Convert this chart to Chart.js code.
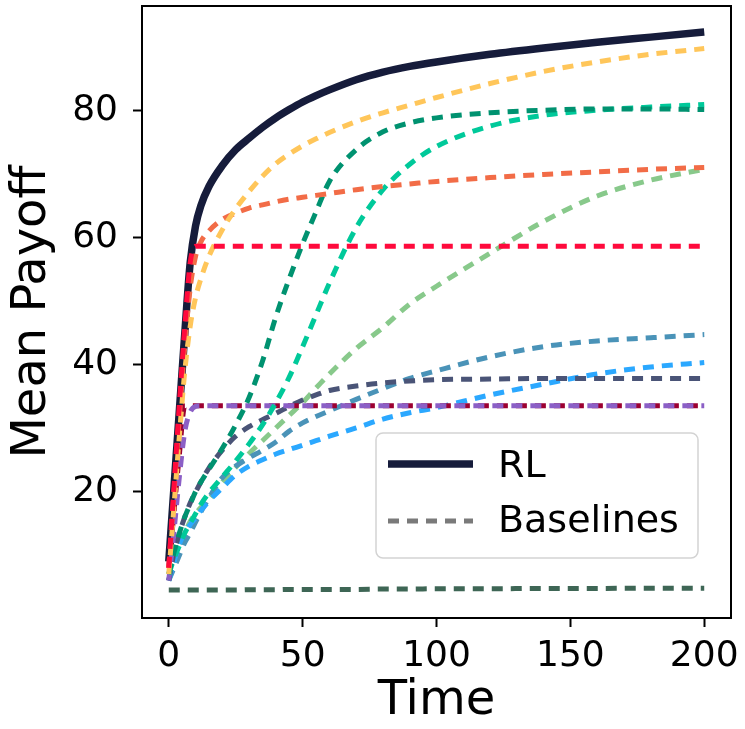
<!DOCTYPE html>
<html>
<head>
  <meta charset="UTF-8">
  <title>Mean Payoff over Time</title>
  <script src="https://cdn.jsdelivr.net/npm/chart.js"></script>
  <style>
    html, body { margin: 0; padding: 0; background: #fff; }
    #wrap { width: 745px; height: 729px; }
  </style>
</head>
<body>
<div id="wrap"><canvas id="payoffChart" width="745" height="729"></canvas></div>
<script>
  // time steps shared by every curve
  const times = [0, 2, 4, 6, 8, 10, 12, 15, 20, 25, 30, 35, 40, 45, 50, 55, 60, 70, 80, 90, 100, 120, 140, 160, 180, 200];

  const rlPayoff = [9, 21, 33, 45, 56, 61.8, 65, 68, 71.3, 73.8, 75.6, 77.3, 78.8, 80.1, 81.3, 82.3, 83.2, 84.8, 86, 86.9, 87.6, 88.8, 89.8, 90.7, 91.5, 92.3];

  const amberPayoff = [7, 18, 29, 39, 46, 50.5, 53.5, 57, 61.2, 64.5, 67.2, 69.6, 71.6, 73.1, 74.4, 75.5, 76.5, 78.2, 79.6, 80.8, 82, 84.2, 86.1, 87.6, 88.8, 89.7];
  const pineGreenPayoff = [7, 10.5, 13.5, 16, 18, 20, 21.5, 23.5, 26.8, 30.5, 34.8, 40.5, 47.5, 53.5, 59, 64, 68.8, 73.8, 76.6, 78, 78.8, 79.6, 80, 80.2, 80.2, 80.1];
  const mintPayoff = [7, 9.5, 11.5, 13.5, 15, 16.5, 18, 19.8, 22.3, 24.8, 27.5, 30.5, 34, 38, 42.8, 47.8, 52.8, 61.5, 67.5, 71.5, 74.3, 77.5, 79.2, 80, 80.5, 80.9];
  const coralPayoff = [8, 20, 32, 43, 52, 57, 59.3, 61, 62.8, 63.8, 64.6, 65.1, 65.6, 66, 66.3, 66.6, 66.9, 67.5, 68, 68.4, 68.8, 69.4, 69.9, 70.3, 70.7, 71];
  const sagePayoff = [6, 9, 11.5, 13.5, 15.3, 16.5, 17.5, 18.8, 21.5, 23.8, 26, 28, 30, 32, 34, 36.3, 38.5, 42.5, 45.8, 49.5, 52.3, 57.5, 62.5, 66.5, 69, 70.7];
  const crimsonPayoff = [8, 21, 34, 46, 56, 58.6, 58.6, 58.6, 58.6, 58.6, 58.6, 58.6, 58.6, 58.6, 58.6, 58.6, 58.6, 58.6, 58.6, 58.6, 58.6, 58.6, 58.6, 58.6, 58.6, 58.6];
  const steelPayoff = [6, 8, 10, 12, 13.5, 15.2, 16.8, 19, 22.2, 24, 25.3, 26.5, 27.8, 29.5, 30.8, 31.8, 32.7, 34.5, 36.2, 37.8, 39, 41.2, 42.8, 43.7, 44.2, 44.7];
  const skyPayoff = [6, 9, 11.8, 13.5, 14.8, 15.8, 17, 18.5, 20.6, 22.6, 24, 25, 25.9, 26.6, 27.3, 28, 28.7, 30, 31.4, 32.4, 33.2, 35.2, 36.9, 38.5, 39.6, 40.3];
  const slatePayoff = [6, 10.4, 13.5, 16, 18.2, 19.9, 21.5, 23.7, 26.5, 28.7, 30.2, 31.3, 32.3, 33.4, 34.4, 35.2, 35.9, 36.6, 37.1, 37.4, 37.6, 37.7, 37.8, 37.8, 37.8, 37.8];
  const maroonPayoff = [8, 17, 26, 33.5, 33.5, 33.5, 33.5, 33.5, 33.5, 33.5, 33.5, 33.5, 33.5, 33.5, 33.5, 33.5, 33.5, 33.5, 33.5, 33.5, 33.5, 33.5, 33.5, 33.5, 33.5, 33.5];
  const violetPayoff = [6, 14, 22.5, 29.5, 32.5, 33.4, 33.5, 33.5, 33.5, 33.5, 33.5, 33.5, 33.5, 33.5, 33.5, 33.5, 33.5, 33.5, 33.5, 33.5, 33.5, 33.5, 33.5, 33.5, 33.5, 33.5];
  const mossPayoff = [4.5, 4.5, 4.5, 4.5, 4.5, 4.5, 4.5, 4.5, 4.5, 4.5, 4.55, 4.55, 4.55, 4.6, 4.6, 4.6, 4.6, 4.6, 4.65, 4.65, 4.7, 4.7, 4.75, 4.75, 4.8, 4.8];

  const xTicks = [0, 50, 100, 150, 200];
  const yTicks = [20, 40, 60, 80];
  const legendLabels = ['RL', 'Baselines'];

  const FONT = "'DejaVu Sans', sans-serif";

  // baseline curves, bottom-most first
  const baselines = [
    { values: mossPayoff, color: '#3e6655' },
    { values: sagePayoff, color: '#88c98b' },
    { values: steelPayoff, color: '#4a93b8' },
    { values: skyPayoff, color: '#2ba8ff' },
    { values: slatePayoff, color: '#4a5477' },
    { values: maroonPayoff, color: '#9c0030' },
    { values: violetPayoff, color: '#8b5fc6' },
    { values: mintPayoff, color: '#00c99a' },
    { values: pineGreenPayoff, color: '#009270' },
    { values: coralPayoff, color: '#f26c47' },
    { values: amberPayoff, color: '#ffc65a' },
    { values: crimsonPayoff, color: '#ff0a3c' }
  ];

  const pts = vals => times.map((t, i) => ({ x: t, y: vals[i] }));

  const datasets = [{
    label: 'RL',
    data: pts(rlPayoff),
    borderColor: '#161c3b',
    borderWidth: 7.5,
    order: 100
  }];
  baselines.forEach((b, i) => {
    datasets.push({
      label: 'Baselines',
      data: pts(b.values),
      borderColor: b.color,
      borderWidth: 5,
      borderDash: [11, 8],
      order: 50 - i
    });
  });

  // top/right spines of the axes box
  const framePlugin = {
    id: 'frame',
    afterDraw(chart) {
      const { ctx, chartArea: a } = chart;
      ctx.save();
      ctx.strokeStyle = '#000';
      ctx.lineWidth = 2;
      ctx.beginPath();
      ctx.moveTo(a.left, a.top);
      ctx.lineTo(a.right, a.top);
      ctx.lineTo(a.right, a.bottom);
      ctx.stroke();
      ctx.restore();
    }
  };

  // legend box in the lower right of the plot
  const legendPlugin = {
    id: 'boxLegend',
    afterDraw(chart) {
      const ctx = chart.ctx;
      const bx = 376, by = 433, bw = 322, bh = 125, r = 7;
      ctx.save();
      ctx.beginPath();
      ctx.roundRect(bx, by, bw, bh, r);
      ctx.fillStyle = 'rgba(255,255,255,0.8)';
      ctx.fill();
      ctx.strokeStyle = '#d3d3d3';
      ctx.lineWidth = 1.5;
      ctx.stroke();

      ctx.lineCap = 'butt';
      ctx.strokeStyle = '#161c3b';
      ctx.lineWidth = 7.5;
      ctx.beginPath();
      ctx.moveTo(388, 464);
      ctx.lineTo(473, 464);
      ctx.stroke();

      ctx.strokeStyle = '#7a7a7a';
      ctx.lineWidth = 5;
      ctx.setLineDash([11, 8]);
      ctx.beginPath();
      ctx.moveTo(388, 521);
      ctx.lineTo(473, 521);
      ctx.stroke();
      ctx.setLineDash([]);

      ctx.fillStyle = '#000';
      ctx.font = '38px ' + FONT;
      ctx.textAlign = 'left';
      ctx.textBaseline = 'alphabetic';
      ctx.fillText(legendLabels[0], 498, 477);
      ctx.fillText(legendLabels[1], 498, 532);
      ctx.restore();
    }
  };

  new Chart(document.getElementById('payoffChart'), {
    type: 'line',
    data: { datasets },
    options: {
      responsive: false,
      animation: false,
      layout: { padding: { top: 6, right: 14, left: 0, bottom: 0 } },
      elements: {
        point: { radius: 0 },
        line: { tension: 0, cubicInterpolationMode: 'monotone', fill: false, borderCapStyle: 'butt' }
      },
      plugins: {
        legend: { display: false },
        tooltip: { enabled: false }
      },
      scales: {
        x: {
          type: 'linear',
          min: -10,
          max: 210,
          afterFit(scale) {
            scale.height = 111;
            scale.paddingLeft = 0;
            scale.paddingRight = 0;
          },
          afterBuildTicks(scale) { scale.ticks = xTicks.map(v => ({ value: v })); },
          grid: { drawOnChartArea: false, drawTicks: true, tickLength: 9, tickWidth: 2, tickColor: '#000' },
          border: { display: true, color: '#000', width: 2 },
          ticks: { color: '#000', padding: 8, maxRotation: 0, font: { family: FONT, size: 36 } },
          title: { display: true, text: 'Time', color: '#000', font: { family: FONT, size: 48, lineHeight: 1 }, padding: { top: 0, bottom: 3 } }
        },
        y: {
          type: 'linear',
          min: 0.1,
          max: 96.4,
          afterFit(scale) {
            scale.width = 142;
            scale.paddingTop = 0;
            scale.paddingBottom = 0;
          },
          afterBuildTicks(scale) { scale.ticks = yTicks.map(v => ({ value: v })); },
          grid: { drawOnChartArea: false, drawTicks: true, tickLength: 9, tickWidth: 2, tickColor: '#000' },
          border: { display: true, color: '#000', width: 2 },
          ticks: { color: '#000', padding: 15, font: { family: FONT, size: 36 } },
          title: { display: true, text: 'Mean Payoff', color: '#000', font: { family: FONT, size: 48, lineHeight: 1 }, padding: { top: 9, bottom: 0 } }
        }
      }
    },
    plugins: [framePlugin, legendPlugin]
  });
</script>
</body>
</html>
